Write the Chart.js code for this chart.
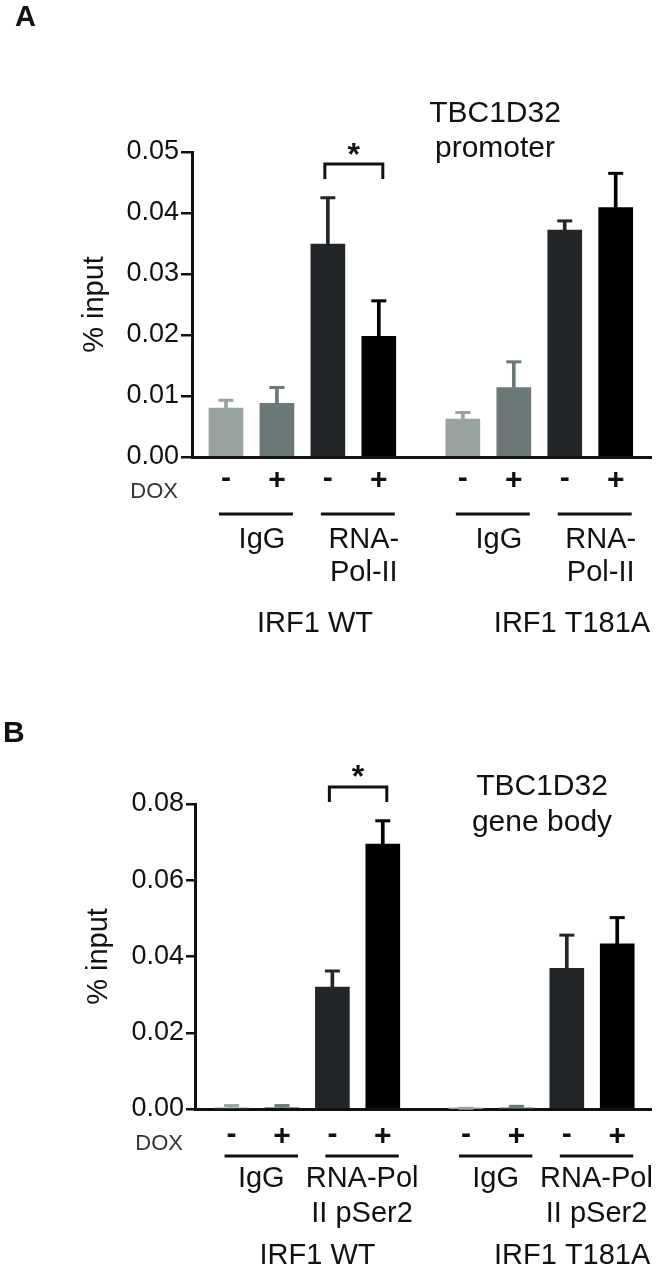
<!DOCTYPE html>
<html>
<head>
<meta charset="utf-8">
<script src="https://cdn.jsdelivr.net/npm/chart.js@4.4.1/dist/chart.umd.min.js"></script>
<style>
  html, body { margin: 0; padding: 0; background: #ffffff; }
  body { width: 662px; height: 1269px; position: relative; overflow: hidden; }
  .panel { position: absolute; left: 0; width: 662px; }
  canvas { display: block; }
</style>
</head>
<body>
<div class="panel" style="top:0;height:640px"><canvas id="chartA" width="662" height="640"></canvas></div>
<div class="panel" style="top:640px;height:629px"><canvas id="chartB" width="662" height="629"></canvas></div>
<script>
// ---------------- data ----------------
const doxLabels = ['-', '+', '-', '+', '-', '+', '-', '+'];
const cellLines = ['IRF1 WT', 'IRF1 T181A'];
const antibodiesA = [['IgG'], ['RNA-', 'Pol-II'], ['IgG'], ['RNA-', 'Pol-II']];
const antibodiesB = [['IgG'], ['RNA-Pol', 'II pSer2'], ['IgG'], ['RNA-Pol', 'II pSer2']];

// Panel A: TBC1D32 promoter (% input), mean and upper error
const promoterMean = [0.0080, 0.0088, 0.0349, 0.0198, 0.0062, 0.0114, 0.0372, 0.0409];
const promoterErr  = [0.0013, 0.0026, 0.0076, 0.0058, 0.0011, 0.0042, 0.0015, 0.0056];
const promoterTicks = [0.00, 0.01, 0.02, 0.03, 0.04, 0.05];

// Panel B: TBC1D32 gene body (% input), mean and upper error
const geneBodyMean = [0.0003, 0.0004, 0.0320, 0.0695, 0.0001, 0.0002, 0.0369, 0.0433];
const geneBodyErr  = [0.0006, 0.0005, 0.0042, 0.0061, 0.0001, 0.0005, 0.0087, 0.0069];
const geneBodyTicks = [0.00, 0.02, 0.04, 0.06, 0.08];

const barColors = ['#98a2a0', '#6c7877', '#222628', '#000000'];
// ---------------------------------------

const FONT = "'Liberation Sans', Arial, Helvetica, sans-serif";
const GROUP_GAP = 0.65;
const xPos = i => i + Math.floor(i / 4) * GROUP_GAP;
const colorOf = i => barColors[i % 4];

function centeredText(ctx, txt, x, cy) {
  const m = ctx.measureText(txt);
  const base = cy + (m.actualBoundingBoxAscent - m.actualBoundingBoxDescent) / 2;
  ctx.fillText(txt, x, base);
}

const annotPlugin = {
  id: 'annot',
  afterDraw(chart, args, o) {
    const { ctx, chartArea, scales } = chart;
    const xs = scales.x;
    const px = i => xs.getPixelForValue(xPos(i));
    const bottom = chartArea.bottom;
    ctx.save();
    ctx.fillStyle = '#111';
    ctx.strokeStyle = '#111';

    // panel letter
    ctx.textAlign = 'left';
    ctx.textBaseline = 'alphabetic';
    ctx.font = o.letterFont;
    ctx.fillText(o.letter, o.letterX, o.letterY);

    // title
    ctx.textAlign = 'center';
    ctx.font = '30px ' + FONT;
    o.title.forEach((t, k) => ctx.fillText(t, o.titleX, o.titleY[k]));

    // significance bracket between bars 3 and 4
    const bx1 = px(2) - 3, bx2 = px(3) + 4;
    ctx.lineWidth = 3;
    ctx.lineCap = 'butt';
    ctx.beginPath();
    ctx.moveTo(bx1, o.bracketBottom);
    ctx.lineTo(bx1, o.bracketTop);
    ctx.lineTo(bx2, o.bracketTop);
    ctx.lineTo(bx2, o.bracketBottom);
    ctx.stroke();
    ctx.font = 'bold 32px ' + FONT;
    centeredText(ctx, '*', (bx1 + bx2) / 2, o.starY);

    // DOX row
    ctx.font = 'bold 30px ' + FONT;
    doxLabels.forEach((s, i) => centeredText(ctx, s, px(i), bottom + o.doxRow));
    ctx.textAlign = 'right';
    ctx.fillStyle = '#333';
    ctx.font = '22px ' + FONT;
    ctx.fillText('DOX', o.doxRight, bottom + 41);

    // antibody lines and labels
    ctx.fillStyle = '#111';
    ctx.textAlign = 'center';
    ctx.font = '29px ' + FONT;
    for (let k = 0; k < 4; k++) {
      const x1 = px(2 * k) - 7, x2 = px(2 * k + 1) + 16;
      ctx.lineWidth = 3;
      ctx.beginPath();
      ctx.moveTo(x1, bottom + o.lineY);
      ctx.lineTo(x2, bottom + o.lineY);
      ctx.stroke();
      const cx = (x1 + x2) / 2 + o.labelShift;
      o.antibodies[k].forEach((t, j) => ctx.fillText(t, cx, bottom + o.labelBase + j * o.labelStep));
    }

    // cell line labels
    ctx.textAlign = 'left';
    cellLines.forEach((t, g) => {
      const start = px(4 * g) - 7;
      ctx.fillText(t, start + o.cellShift, bottom + o.cellBase);
    });
    ctx.restore();
  }
};

function buildChart(id, p) {
  const pts = p.mean.map((v, i) => ({ x: xPos(i), y: v }));
  const stems = p.mean.map((v, i) => ({ x: xPos(i), y: [v, v + p.err[i]] }));
  const caps = p.mean.map((v, i) => ({ x: xPos(i), y: v + p.err[i] }));
  const colors = p.mean.map((v, i) => colorOf(i));
  return new Chart(document.getElementById(id), {
    type: 'bar',
    data: {
      datasets: [
        { type: 'bar', data: pts, backgroundColor: colors, borderWidth: 0,
          barThickness: 34, grouped: false, order: 3 },
        { type: 'bar', data: stems, backgroundColor: colors, borderWidth: 0,
          barThickness: 3, grouped: false, order: 2 },
        { type: 'line', data: caps, showLine: false, pointStyle: 'line',
          pointRadius: 7.5, pointHoverRadius: 7.5, pointBorderWidth: 3,
          pointBorderColor: colors, pointBackgroundColor: colors, clip: false, order: 1 }
      ]
    },
    options: {
      responsive: false,
      animation: false,
      devicePixelRatio: 1,
      events: [],
      layout: { padding: p.padding },
      plugins: { legend: { display: false }, tooltip: { enabled: false }, annot: p.annot },
      scales: {
        x: {
          type: 'linear', min: p.xMin, max: p.xMax, offset: false,
          grid: { display: false },
          ticks: { display: false },
          border: { display: true, color: '#111', width: 3 },
          afterFit: s => { s.height = p.xHeight; }
        },
        y: {
          type: 'linear', min: 0, max: p.ticks[p.ticks.length - 1],
          afterBuildTicks: s => { s.ticks = p.ticks.map(v => ({ value: v })); },
          ticks: { color: '#111', font: { family: FONT, size: 27 }, padding: 2,
                   callback: v => Number(v).toFixed(2) },
          grid: { display: true, drawOnChartArea: false, drawTicks: true,
                  tickLength: p.tickLen, color: '#111', lineWidth: 2.5 },
          border: { display: true, color: '#111', width: 3 },
          title: { display: true, text: '% input', color: '#111',
                   font: { family: FONT, size: 29 }, padding: { top: 4, bottom: 0 } },
          afterFit: s => { s.width = p.yWidth; }
        }
      }
    },
    plugins: [annotPlugin]
  });
}

buildChart('chartA', {
  mean: promoterMean, err: promoterErr, ticks: promoterTicks,
  xMin: -0.667, xMax: 8.353,
  padding: { left: 74, right: 9, top: 152, bottom: 0 },
  yWidth: 118, xHeight: 183, tickLen: 11,
  annot: {
    letter: 'A', letterFont: 'bold 29px ' + FONT, letterX: 15, letterY: 26,
    title: ['TBC1D32', 'promoter'], titleX: 495, titleY: [122, 157],
    bracketTop: 164, bracketBottom: 179, starY: 149,
    doxRow: 22, doxRight: 178, lineY: 57,
    antibodies: antibodiesA, labelBase: 91, labelStep: 33, labelShift: 6,
    cellBase: 175, cellShift: 38
  }
});

buildChart('chartB', {
  mean: geneBodyMean, err: geneBodyErr, ticks: geneBodyTicks,
  xMin: -0.725, xMax: 8.33,
  padding: { left: 78, right: 5, top: 164, bottom: 0 },
  yWidth: 117, xHeight: 160, tickLen: 9,
  annot: {
    letter: 'B', letterFont: 'bold 30px ' + FONT, letterX: 3, letterY: 102,
    title: ['TBC1D32', 'gene body'], titleX: 542, titleY: [155, 191],
    bracketTop: 147, bracketBottom: 162, starY: 131,
    doxRow: 26, doxRight: 183, lineY: 47,
    antibodies: antibodiesB, labelBase: 78, labelStep: 35, labelShift: 0,
    cellBase: 155, cellShift: 35
  }
});
</script>
</body>
</html>
